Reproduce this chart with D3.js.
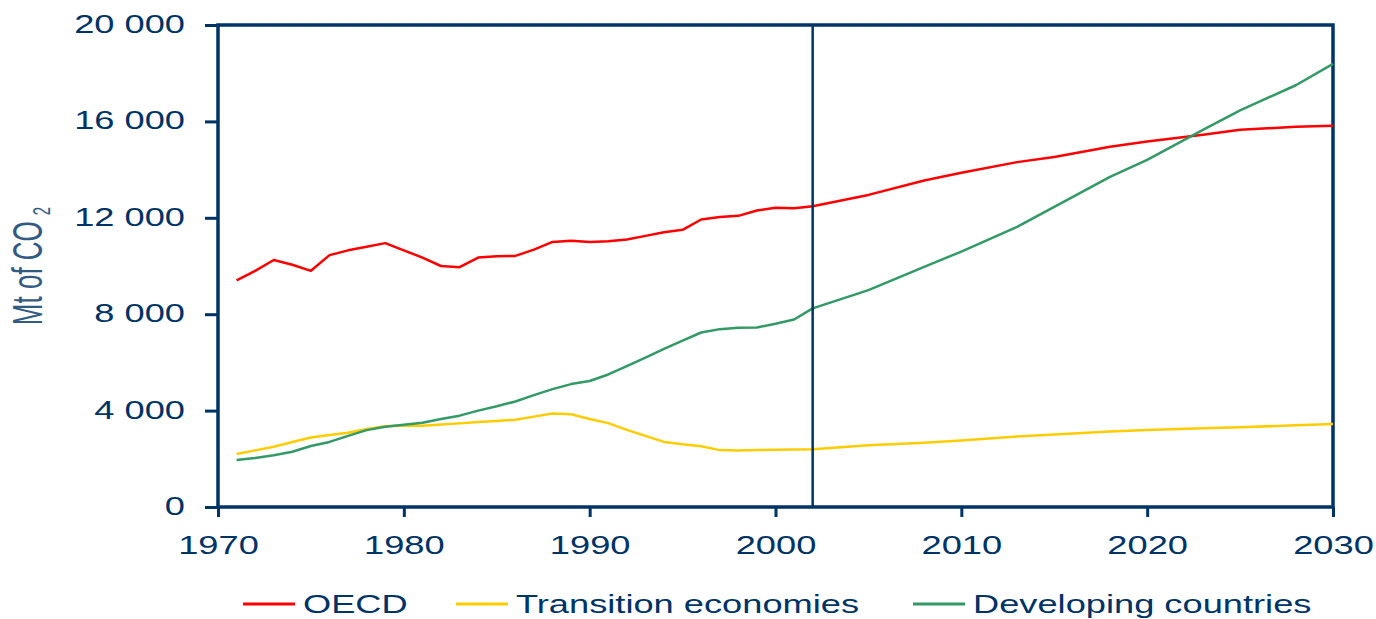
<!DOCTYPE html>
<html>
<head>
<meta charset="utf-8">
<script src="https://d3js.org/d3.v7.min.js"></script>
<style>
  body { margin: 0; background: #fff; }
  text { font-family: "Liberation Sans", Arial, sans-serif; fill: #003366; }
</style>
</head>
<body>
<svg id="chart" width="1376" height="619"></svg>
<script>
// years, historical annual then projection points
const years = [1971,1972,1973,1974,1975,1976,1977,1978,1979,1980,
  1981,1982,1983,1984,1985,1986,1987,1988,1989,1990,
  1991,1992,1993,1994,1995,1996,1997,1998,1999,2000,
  2001,2002,2005,2008,2010,2013,2015,2018,2020,2023,2025,2028,2030]

const oecd = [9400,9800,10250,10050,9800,10450,10650,10800,10950,10650,
  10350,10000,9950,10350,10400,10420,10680,11000,11050,11000,
  11030,11100,11250,11400,11500,11930,12030,12080,12300,12420,
  12400,12480,12950,13550,13870,14310,14520,14950,15170,15450,15650,15780,15820]

const transition = [2200,2350,2500,2700,2880,2990,3080,3240,3350,3380,
  3370,3420,3470,3530,3570,3620,3750,3880,3850,3650,
  3480,3200,2950,2700,2600,2520,2360,2340,2360,2380,
  2390,2400,2560,2670,2760,2930,3010,3130,3190,3270,3310,3390,3440]

const developing = [1950,2030,2150,2290,2530,2700,2950,3190,3330,3410,
  3500,3650,3790,4000,4180,4380,4640,4890,5100,5230,
  5500,5850,6200,6560,6900,7240,7380,7440,7450,7600,
  7780,8240,9000,9960,10600,11620,12450,13700,14400,15650,16460,17500,18390]

const series_names = ["OECD", "Transition economies", "Developing countries"]
const series_colors = ["#ff0000", "#ffcc00", "#339966"]
const series_values = [oecd, transition, developing]

const y_ticks = [0, 4000, 8000, 12000, 16000, 20000]
const x_ticks = [1970, 1980, 1990, 2000, 2010, 2020, 2030]
const base_year = 2002

const navy = "#003366"
const stretch = 1.45   // the reference text is wide

const svg = d3.select("#chart"),
  margin = {top: 25, right: 43, bottom: 112, left: 218},
  width = +svg.attr("width") - margin.left - margin.right,
  height = +svg.attr("height") - margin.top - margin.bottom

const g = svg.append("g").attr("transform", `translate(${margin.left},${margin.top})`)

const x = d3.scaleLinear().domain([1970, 2030]).range([0, width])
const y = d3.scaleLinear().domain([0, 20000]).range([height, 0])

const fmt = d => d3.format(",")(d).replace(",", " ")

// y axis
const y_axis = g.append("g")
  .call(d3.axisLeft(y).tickValues(y_ticks).tickSize(13).tickFormat(fmt))
y_axis.select(".domain").remove()
y_axis.selectAll(".tick line").attr("stroke", navy).attr("stroke-width", 3)
y_axis.selectAll(".tick text")
  .attr("x", -33 / stretch)
  .attr("dy", "0.3em")
  .attr("transform", `scale(${stretch},1)`)
  .style("font-size", "25px")
  .attr("fill", navy)

// x axis
const x_axis = g.append("g")
  .attr("transform", `translate(0,${height})`)
  .call(d3.axisBottom(x).tickValues(x_ticks).tickSize(10).tickFormat(d3.format("d")))
x_axis.select(".domain").remove()
x_axis.selectAll(".tick line").attr("stroke", navy).attr("stroke-width", 3)
x_axis.selectAll(".tick text")
  .attr("y", 29)
  .attr("dy", "0.71em")
  .attr("transform", `scale(${stretch},1)`)
  .style("font-size", "25px")
  .attr("fill", navy)

// frame
g.append("rect")
  .attr("x", 0).attr("y", 0)
  .attr("width", width).attr("height", height)
  .attr("fill", "none")
  .attr("stroke", navy)
  .attr("stroke-width", 3.5)

// lines
const line = d3.line()
  .x((d, i) => x(years[i]))
  .y(d => y(d))

series_values.forEach((vals, k) => {
  g.append("path")
    .datum(vals)
    .attr("fill", "none")
    .attr("stroke", series_colors[k])
    .attr("stroke-width", 2.5)
    .attr("stroke-linejoin", "round")
    .attr("d", line)
})

// base year marker
g.append("line")
  .attr("x1", x(base_year)).attr("x2", x(base_year))
  .attr("y1", 0).attr("y2", height)
  .attr("stroke", navy)
  .attr("stroke-width", 2.5)

// y title
svg.append("text")
  .attr("transform", `translate(42,266) scale(1.6,1) rotate(-90)`)
  .attr("text-anchor", "middle")
  .style("font-size", "26px")
  .attr("fill", navy)
  .attr("opacity", 0.8)
  .text("Mt of CO")
  .append("tspan")
  .attr("dx", 6)
  .attr("dy", 5)
  .style("font-size", "15px")
  .text("2")

// legend
const legend_x = [243, 456, 913]
const legend = svg.append("g").attr("transform", "translate(0,604)")
series_names.forEach((name, k) => {
  legend.append("line")
    .attr("x1", legend_x[k]).attr("x2", legend_x[k] + 52)
    .attr("y1", 0).attr("y2", 0)
    .attr("stroke", series_colors[k])
    .attr("stroke-width", 3)
  legend.append("text")
    .attr("transform", `translate(${legend_x[k] + 60},9) scale(${stretch},1)`)
    .style("font-size", "25px")
    .attr("fill", navy)
    .text(name)
})
</script>
</body>
</html>
